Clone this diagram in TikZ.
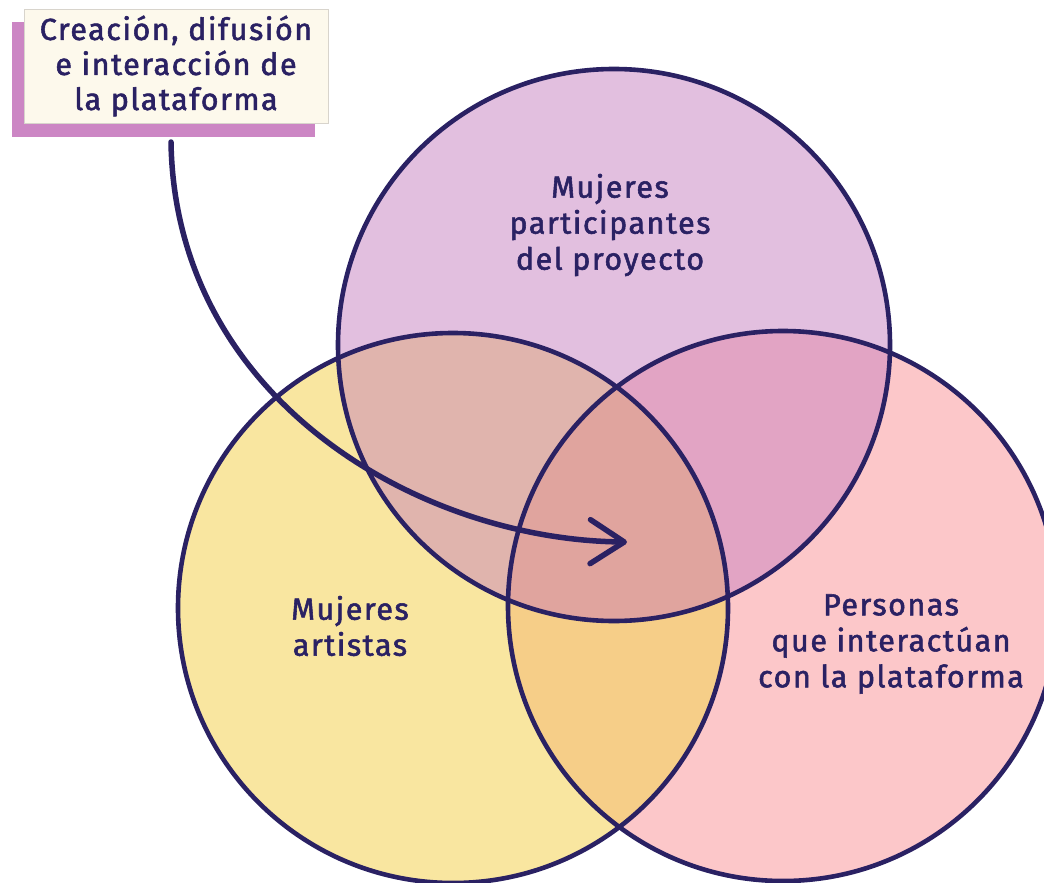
\documentclass[tikz,border=0pt]{standalone}
\usepackage{fontspec}
\setmainfont{Fira Sans}
\newfontfamily\lblfont{Fira Sans}[FakeBold=1.8, LetterSpace=5]
\usetikzlibrary{arrows.meta}
\definecolor{ink}{HTML}{2A2163}
\definecolor{cTop}{HTML}{E2BFDF}
\definecolor{cLeft}{HTML}{F9E6A0}
\definecolor{cRight}{HTML}{FCC7C9}
\definecolor{cTL}{HTML}{E0B4AD}
\definecolor{cTR}{HTML}{E2A4C4}
\definecolor{cLR}{HTML}{F6CE88}
\definecolor{cAll}{HTML}{E0A49E}
\definecolor{boxfill}{HTML}{FDF9EC}
\definecolor{boxshadow}{HTML}{CC86C4}
\definecolor{boxline}{HTML}{D8D4CC}
\tikzset{
  label text/.style={text=ink, align=center, font=\lblfont\fontsize{30.5}{36}\selectfont},
  box text/.style={text=ink, align=center, font=\lblfont\fontsize{30.5}{35}\selectfont},
  ring/.style={draw=ink, line width=4.6pt},
  flow/.style={draw=ink, line width=5.5pt, line cap=round, line join=round,
    -{Straight Barb[length=34pt,width=44pt,line cap=round,line join=round]}},
}
\begin{document}
\begin{tikzpicture}[x=1pt,y=-1pt]
\useasboundingbox (0,0) rectangle (1044,883);
\clip (0,0) rectangle (1044,883);
% base fills
\fill[cTop] (614,345) circle[radius=276pt];
\fill[cLeft] (453,608) circle[radius=275pt];
\fill[cRight] (783,606) circle[radius=275pt];
% pairwise overlaps
\begin{scope}
  \clip (614,345) circle[radius=276pt];
  \fill[cTL] (453,608) circle[radius=275pt];
  \fill[cTR] (783,606) circle[radius=275pt];
\end{scope}
\begin{scope}
  \clip (453,608) circle[radius=275pt];
  \fill[cLR] (783,606) circle[radius=275pt];
\end{scope}
\begin{scope}
  \clip (614,345) circle[radius=276pt];
  \clip (453,608) circle[radius=275pt];
  \fill[cAll] (783,606) circle[radius=275pt];
\end{scope}
% outlines
\draw[ring] (614,345) circle[radius=276pt];
\draw[ring] (453,608) circle[radius=275pt];
\draw[ring] (783,606) circle[radius=275pt];
% labels
\node[label text] (top) at (610,225) {Mujeres\\participantes\\del proyecto};
\node[label text] (left) at (350,626) {Mujeres\\artistas};
\node[label text] (right) at (891,644) {Personas\\que interactúan\\con la plataforma};
% callout box
\fill[boxshadow] (12,22) rectangle (315,137);
\node[draw=boxline, line width=0.8pt, fill=boxfill, minimum width=304pt, minimum height=114pt, inner sep=0pt] (box) at (176,66) {};
\node[box text] (boxtext) at (176,66) {Creación, difusión\\e interacción de\\la plataforma};
% arrow
\coordinate (start) at (171,142);
\coordinate (tip) at (627,542);
\draw[flow] (start) .. controls (175,400) and (420,540) .. (tip);
\end{tikzpicture}
\end{document}
